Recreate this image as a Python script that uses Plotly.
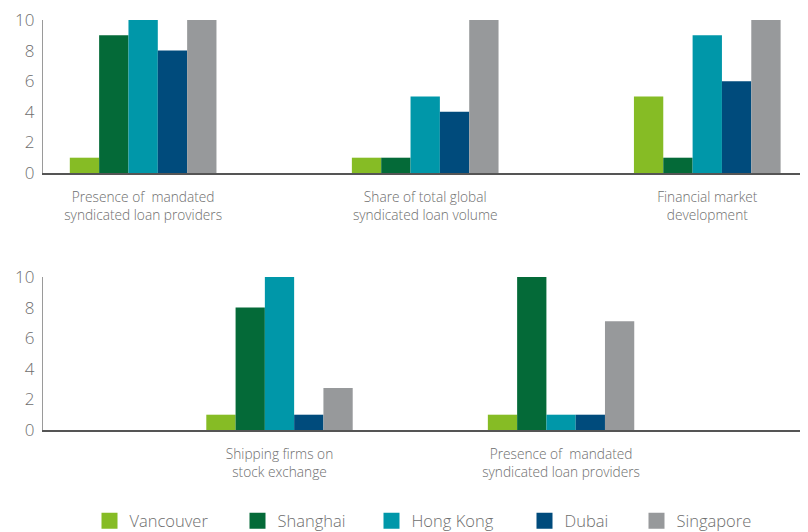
import plotly.graph_objects as go

cities = ["Vancouver", "Shanghai", "Hong Kong", "Dubai", "Singapore"]
colors = ["#86BC25", "#046A38", "#0097A9", "#004B7C", "#97999B"]

top_categories = ["Presence of  mandated<br>syndicated loan providers",
                  "Share of total global<br>syndicated loan volume",
                  "Financial market<br>development"]
top_values = {
    "Vancouver": [1, 1, 5],
    "Shanghai": [9, 1, 1],
    "Hong Kong": [10, 5, 9],
    "Dubai": [8, 4, 6],
    "Singapore": [10, 10, 10],
}

bottom_categories = ["Shipping firms on<br>stock exchange",
                     "Presence of  mandated<br>syndicated loan providers"]
bottom_values = {
    "Vancouver": [1, 1],
    "Shanghai": [8, 10],
    "Hong Kong": [10, 1],
    "Dubai": [1, 1],
    "Singapore": [2.75, 7.1],
}

y_ticks = [0, 2, 4, 6, 8, 10]

# layout geometry (pixels in figure space)
L, R = 35, 10
plot_w = 808 - L - R
legend_left_px = [81.5, 229.5, 363.5, 516.5, 628.5]
legend_names = ["legend", "legend2", "legend3", "legend4", "legend5"]

txt = "#6e6e6e"
font = dict(family="Open Sans", color=txt, weight=300)

fig = go.Figure()
top_x = list(range(len(top_categories)))
bot_x = list(range(len(bottom_categories)))
for i, (city, col) in enumerate(zip(cities, colors)):
    fig.add_trace(go.Bar(x=top_x, y=top_values[city], marker_color=col, marker_line_width=0,
                         xaxis="x", yaxis="y", showlegend=False, name=city))
    fig.add_trace(go.Bar(x=bot_x, y=bottom_values[city], marker_color=col, marker_line_width=0,
                         xaxis="x2", yaxis="y2", showlegend=False, name=city))
    fig.add_trace(go.Scatter(x=[None], y=[None], mode="markers", name=city,
                             marker=dict(symbol="square", size=17, color=col),
                             xaxis="x", yaxis="y", showlegend=True, legend=legend_names[i]))

yax = dict(range=[0, 10], tickvals=y_ticks, showgrid=False, zeroline=False,
           showline=True, linecolor="#9a9a9a", linewidth=1.2, ticks="",
           tickfont=dict(size=17, **font), ticklabelstandoff=4,
           ticklabeloverflow="allow", automargin=False, fixedrange=True)
xax = dict(showgrid=False, zeroline=False, showline=True, linecolor="#555555", linewidth=1.5,
           ticks="", tickfont=dict(size=13.7, **font), ticklabelstandoff=11,
           ticklabeloverflow="allow", automargin=False)

legends = {}
for i, name in enumerate(legend_names):
    legends[name] = dict(orientation="h", x=(legend_left_px[i] - L) / plot_w, xanchor="left",
                         y=19 / 532, yanchor="middle", font=dict(size=16.5, **font),
                         itemclick=False, bgcolor="rgba(0,0,0,0)")

fig.update_layout(
    width=808, height=532,
    margin=dict(l=L, r=R, t=0, b=0),
    paper_bgcolor="white", plot_bgcolor="white",
    barmode="group", bargap=0.48, bargroupgap=0,
    font=font,
    xaxis=dict(xax, domain=[0, 1], anchor="y", range=[-0.355, 2.35],
               tickvals=top_x, ticktext=top_categories),
    yaxis=dict(yax, domain=[1 - 165 / 532, 1 - 12 / 532], anchor="x"),
    xaxis2=dict(xax, domain=[0, 1], anchor="y2", range=[-0.84, 1.87],
                tickvals=bot_x, ticktext=bottom_categories),
    yaxis2=dict(yax, domain=[1 - 422 / 532, 1 - 269 / 532], anchor="x2"),
    **legends,
)

fig.write_html("out.html")
